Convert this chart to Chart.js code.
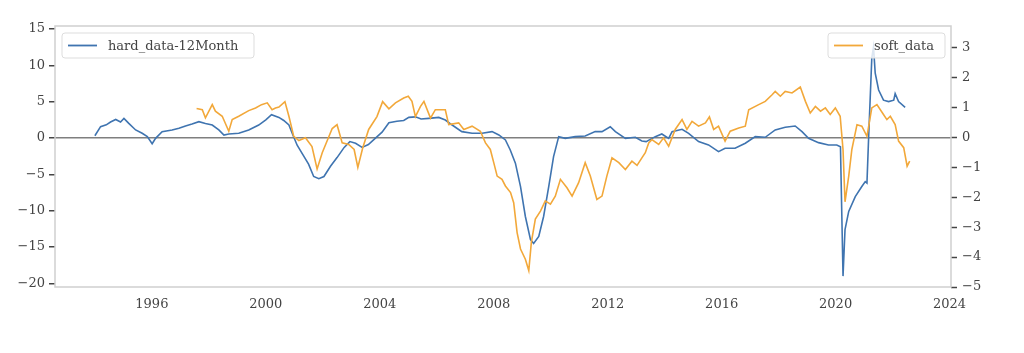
<!DOCTYPE html>
<html>
<head>
<meta charset="utf-8">
<script src="https://cdn.jsdelivr.net/npm/chart.js@4/dist/chart.umd.min.js"></script>
<style>
  html, body { margin: 0; padding: 0; background: #ffffff; }
  #wrap { position: relative; width: 1024px; height: 353px; }
</style>
</head>
<body>
<div id="wrap"><canvas id="c" width="1024" height="353"></canvas></div>
<script>
// ---- data ----
const hardLabel = 'hard_data-12Month';
const softLabel = 'soft_data';

const hardYears = [1994.0,1994.2,1994.4,1994.55,1994.73,1994.9,1995.02,1995.19,1995.43,1995.66,1995.84,1996.01,1996.13,1996.36,1996.71,1996.95,1997.18,1997.41,1997.65,1997.88,1998.12,1998.35,1998.53,1998.7,1999.05,1999.4,1999.75,2000.0,2000.2,2000.46,2000.63,2000.81,2000.95,2001.1,2001.3,2001.5,2001.68,2001.86,2002.04,2002.27,2002.5,2002.75,2002.95,2003.15,2003.38,2003.6,2003.8,2004.08,2004.32,2004.6,2004.84,2005.02,2005.25,2005.45,2005.72,2006.07,2006.3,2006.54,2006.88,2007.24,2007.59,2007.94,2008.18,2008.41,2008.58,2008.76,2008.94,2009.11,2009.29,2009.4,2009.58,2009.75,2009.93,2010.1,2010.28,2010.51,2010.86,2011.21,2011.56,2011.8,2012.09,2012.27,2012.62,2012.97,2013.2,2013.35,2013.67,2013.9,2014.14,2014.26,2014.61,2014.84,2015.19,2015.54,2015.89,2016.12,2016.47,2016.83,2017.18,2017.53,2017.88,2018.23,2018.58,2018.82,2019.05,2019.4,2019.75,2020.04,2020.17,2020.26,2020.33,2020.46,2020.69,2020.92,2021.04,2021.1,2021.16,2021.27,2021.33,2021.39,2021.51,2021.68,2021.86,2022.04,2022.09,2022.21,2022.44];
const hardValues = [0.3,1.55,1.8,2.2,2.55,2.2,2.7,2.0,1.1,0.64,0.18,-0.8,-0.05,0.87,1.1,1.33,1.65,1.92,2.24,2.0,1.78,1.1,0.4,0.55,0.64,1.1,1.78,2.5,3.2,2.83,2.4,1.78,0.4,-1.0,-2.3,-3.6,-5.3,-5.6,-5.3,-3.9,-2.7,-1.3,-0.5,-0.73,-1.3,-0.9,-0.2,0.8,2.1,2.3,2.4,2.83,2.9,2.6,2.7,2.83,2.47,1.78,0.87,0.64,0.64,0.87,0.41,-0.27,-1.65,-3.47,-6.68,-10.8,-14.0,-14.5,-13.55,-10.8,-6.68,-2.56,0.18,-0.05,0.18,0.27,0.87,0.87,1.55,0.87,-0.05,0.09,-0.41,-0.5,0.18,0.55,-0.05,0.87,1.19,0.64,-0.5,-0.96,-1.88,-1.41,-1.41,-0.73,0.18,0.09,1.1,1.47,1.65,0.87,-0.05,-0.64,-0.96,-0.96,-1.2,-19.0,-12.6,-10.1,-8.06,-6.68,-6.0,-6.2,0.18,11.0,12.5,8.9,6.6,5.2,5.0,5.2,6.1,5.0,4.2];

const softYears = [1997.57,1997.77,1997.88,1998.12,1998.23,1998.47,1998.7,1998.82,1999.05,1999.4,1999.64,1999.85,2000.05,2000.22,2000.34,2000.46,2000.67,2000.81,2000.98,2001.16,2001.39,2001.62,2001.8,2001.98,2002.33,2002.5,2002.68,2002.91,2003.1,2003.23,2003.4,2003.61,2003.9,2004.1,2004.32,2004.55,2004.84,2005.0,2005.13,2005.25,2005.43,2005.55,2005.78,2005.95,2006.3,2006.42,2006.77,2006.95,2007.24,2007.53,2007.71,2007.88,2008.0,2008.12,2008.29,2008.41,2008.59,2008.7,2008.82,2008.94,2009.11,2009.23,2009.32,2009.46,2009.64,2009.81,2009.99,2010.16,2010.34,2010.57,2010.75,2010.98,2011.21,2011.39,2011.62,2011.8,2011.97,2012.15,2012.39,2012.62,2012.85,2013.03,2013.2,2013.32,2013.44,2013.55,2013.79,2013.96,2014.14,2014.37,2014.61,2014.78,2014.96,2015.19,2015.43,2015.57,2015.72,2015.89,2016.12,2016.3,2016.6,2016.83,2016.95,2017.3,2017.53,2017.77,2017.88,2018.06,2018.23,2018.47,2018.76,2018.94,2019.11,2019.29,2019.47,2019.64,2019.81,2019.99,2020.16,2020.26,2020.33,2020.46,2020.57,2020.75,2020.92,2021.1,2021.27,2021.45,2021.68,2021.8,2021.92,2022.09,2022.21,2022.39,2022.51,2022.6];
const softValues = [0.97,0.93,0.66,1.1,0.88,0.71,0.21,0.6,0.71,0.9,0.99,1.1,1.16,0.93,0.99,1.02,1.2,0.71,0.04,-0.1,-0.01,-0.3,-1.05,-0.51,0.3,0.43,-0.18,-0.23,-0.4,-1.0,-0.35,0.27,0.7,1.2,0.96,1.16,1.32,1.38,1.21,0.7,1.04,1.21,0.65,0.93,0.93,0.43,0.49,0.27,0.38,0.21,-0.18,-0.4,-0.84,-1.29,-1.4,-1.62,-1.84,-2.18,-3.18,-3.73,-4.07,-4.45,-3.51,-2.73,-2.46,-2.12,-2.23,-1.96,-1.4,-1.68,-1.96,-1.51,-0.84,-1.29,-2.07,-1.96,-1.29,-0.68,-0.84,-1.07,-0.79,-0.93,-0.68,-0.51,-0.18,-0.07,-0.23,-0.01,-0.29,0.27,0.6,0.27,0.54,0.38,0.49,0.69,0.27,0.38,-0.12,0.21,0.32,0.38,0.93,1.1,1.21,1.43,1.54,1.38,1.54,1.49,1.69,1.21,0.82,1.04,0.88,0.99,0.77,0.99,0.71,-0.4,-2.15,-1.29,-0.4,0.43,0.38,0.04,0.99,1.1,0.77,0.6,0.71,0.43,-0.12,-0.34,-0.96,-0.79];

const xTicks = [1996, 2000, 2004, 2008, 2012, 2016, 2020, 2024];
const leftTicks = [-20, -15, -10, -5, 0, 5, 10, 15];
const rightTicks = [-5, -4, -3, -2, -1, 0, 1, 2, 3];

// ---- build ----
const hardPts = hardYears.map((x, i) => ({ x: x, y: hardValues[i] }));
const softPts = softYears.map((x, i) => ({ x: x, y: softValues[i] }));

const BLUE = '#3f74b0';
const ORANGE = '#f2a83a';
const TXT = '#444444';
const FONT = { family: "'DejaVu Serif', 'Liberation Serif', serif", size: 13 };
const fmt = v => (v < 0 ? '\u2212' + Math.abs(v) : String(v));

const framePlugin = {
  id: 'frameAndLegends',
  afterDraw(chart) {
    const ctx = chart.ctx;
    const a = chart.chartArea;
    ctx.save();
    ctx.strokeStyle = '#cfcfcf';
    ctx.lineWidth = 1.5;
    ctx.strokeRect(a.left, a.top, a.right - a.left, a.bottom - a.top);

    function legend(x, y, w, h, color, label) {
      ctx.fillStyle = 'rgba(255,255,255,0.82)';
      ctx.strokeStyle = '#dddddd';
      ctx.lineWidth = 1;
      ctx.beginPath();
      if (ctx.roundRect) ctx.roundRect(x, y, w, h, 3); else ctx.rect(x, y, w, h);
      ctx.fill();
      ctx.stroke();
      ctx.strokeStyle = color;
      ctx.lineWidth = 1.8;
      ctx.beginPath();
      ctx.moveTo(x + 6, y + h / 2);
      ctx.lineTo(x + 35, y + h / 2);
      ctx.stroke();
      ctx.fillStyle = TXT;
      ctx.font = FONT.size + 'px ' + FONT.family;
      ctx.textBaseline = 'middle';
      ctx.textAlign = 'left';
      ctx.fillText(label, x + 46, y + h / 2 + 1);
    }
    const ds = chart.data.datasets;
    legend(62, 33, 192, 25, BLUE, ds[1].label);
    legend(828, 33, 117, 25, ORANGE, ds[0].label);
    ctx.restore();
  }
};

new Chart(document.getElementById('c'), {
  type: 'line',
  data: {
    datasets: [
      { label: softLabel, data: softPts, yAxisID: 'yR', borderColor: ORANGE, borderWidth: 1.6, pointRadius: 0, tension: 0, fill: false },
      { label: hardLabel, data: hardPts, yAxisID: 'yL', borderColor: BLUE, borderWidth: 1.6, pointRadius: 0, tension: 0, fill: false }
    ]
  },
  options: {
    responsive: false,
    animation: false,
    events: [],
    layout: { padding: { top: 26, bottom: 0, left: 0, right: 0 } },
    plugins: { legend: { display: false }, tooltip: { enabled: false } },
    scales: {
      x: {
        type: 'linear', min: 1992.6, max: 2024.05,
        afterBuildTicks: s => { s.ticks = xTicks.map(v => ({ value: v })); },
        afterFit: s => { s.height = 66; },
        ticks: { callback: v => String(v), font: FONT, color: TXT, padding: 10, maxRotation: 0, autoSkip: false },
        grid: { display: false, drawTicks: false },
        border: { display: false }
      },
      yL: {
        type: 'linear', position: 'left', min: -20.5, max: 15.4,
        afterBuildTicks: s => { s.ticks = leftTicks.map(v => ({ value: v })); },
        afterFit: s => { s.width = 55; },
        ticks: { callback: v => fmt(v), font: FONT, color: TXT, padding: 4 },
        grid: {
          color: c => (c.tick && c.tick.value === 0 ? '#7f7f7f' : 'rgba(0,0,0,0)'),
          lineWidth: 1.5,
          drawTicks: true, tickLength: 6, tickColor: '#444', tickWidth: 1.5
        },
        border: { display: false }
      },
      yR: {
        type: 'linear', position: 'right', min: -5.0, max: 3.73,
        afterBuildTicks: s => { s.ticks = rightTicks.map(v => ({ value: v })); },
        afterFit: s => { s.width = 73; },
        ticks: { callback: v => fmt(v), font: FONT, color: TXT, padding: 5 },
        grid: { drawOnChartArea: false, drawTicks: true, tickLength: 6, tickColor: '#444', tickWidth: 1.5 },
        border: { display: false }
      }
    }
  },
  plugins: [framePlugin]
});
</script>
</body>
</html>
